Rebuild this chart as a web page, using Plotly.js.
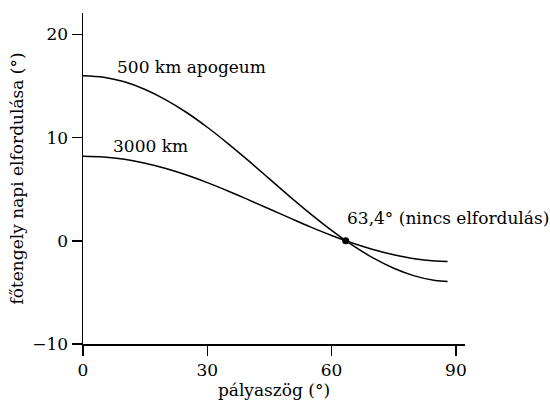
<!DOCTYPE html>
<html>
<head>
<meta charset="utf-8">
<script src="https://cdn.plot.ly/plotly-3.0.1.min.js"></script>
<style>html,body{margin:0;padding:0;background:#fff;}#chart{width:550px;height:403px;}</style>
</head>
<body>
<div id="chart"></div>
<script>
const inclination = [0, 5, 10, 15, 20, 25, 30, 35, 40, 45, 50, 55, 60, 65, 70, 75, 80, 85, 88];
const apogee500 = [16, 15.85, 15.4, 14.66, 13.66, 12.43, 11.0, 9.42, 7.74, 6.0, 4.26, 2.58, 1.0, -0.43, -1.66, -2.66, -3.4, -3.85, -3.95];
const apogee3000 = [8.2, 8.12, 7.89, 7.51, 7.0, 6.37, 5.64, 4.83, 3.96, 3.08, 2.19, 1.32, 0.51, -0.22, -0.85, -1.36, -1.74, -1.95, -2.0];
const nodeX = [63.4];
const nodeY = [0];
const xTicks = [0, 30, 60, 90];
const yTicks = [-10, 0, 10, 20];

const serif = 'DejaVu Serif';
const fs = 17;
const traces = [
  {x: inclination, y: apogee500, mode: 'lines', line: {color: '#000', width: 1.5, shape: 'spline'}, hoverinfo: 'skip'},
  {x: inclination, y: apogee3000, mode: 'lines', line: {color: '#000', width: 1.5, shape: 'spline'}, hoverinfo: 'skip'},
  {x: nodeX, y: nodeY, mode: 'markers', marker: {color: '#000', size: 7}, hoverinfo: 'skip'}
];
const layout = {
  width: 550, height: 403,
  margin: {l: 83, r: 85, t: 13, b: 59},
  showlegend: false,
  paper_bgcolor: '#fff', plot_bgcolor: '#fff',
  font: {family: serif, size: fs, color: '#000'},
  xaxis: {
    range: [0, 92.2], tickvals: xTicks, ticktext: xTicks.map(String),
    showgrid: false, zeroline: false, showline: true, linecolor: '#000', linewidth: 1.5,
    ticks: 'outside', ticklen: 10, tickwidth: 1.5, tickcolor: '#000',
    tickfont: {family: serif, size: fs},
    title: {text: 'pályaszög (°)', font: {family: serif, size: fs}, standoff: 0}
  },
  yaxis: {
    range: [-10, 22.07], tickvals: yTicks, ticktext: yTicks.map(v => v < 0 ? '\u2212' + Math.abs(v) : String(v)),
    showgrid: false, zeroline: false, showline: true, linecolor: '#000', linewidth: 1.5,
    ticks: 'outside', ticklen: 10, tickwidth: 1.5, tickcolor: '#000',
    tickfont: {family: serif, size: fs},
    title: {text: 'főtengely napi elfordulása (°)', font: {family: serif, size: fs}, standoff: 4}
  },
  annotations: [
    {x: 7.7, y: 16.8, xref: 'x', yref: 'y', text: '500 km apogeum', showarrow: false, xanchor: 'left', yanchor: 'middle', font: {family: serif, size: fs}},
    {x: 6.8, y: 9.15, xref: 'x', yref: 'y', text: '3000 km', showarrow: false, xanchor: 'left', yanchor: 'middle', font: {family: serif, size: fs}},
    {x: 63.2, y: 2.25, xref: 'x', yref: 'y', text: '63,4° (nincs elfordulás)', showarrow: false, xanchor: 'left', yanchor: 'middle', font: {family: serif, size: fs}}
  ]
};
Plotly.newPlot('chart', traces, layout, {displayModeBar: false, staticPlot: true});
</script>
</body>
</html>
